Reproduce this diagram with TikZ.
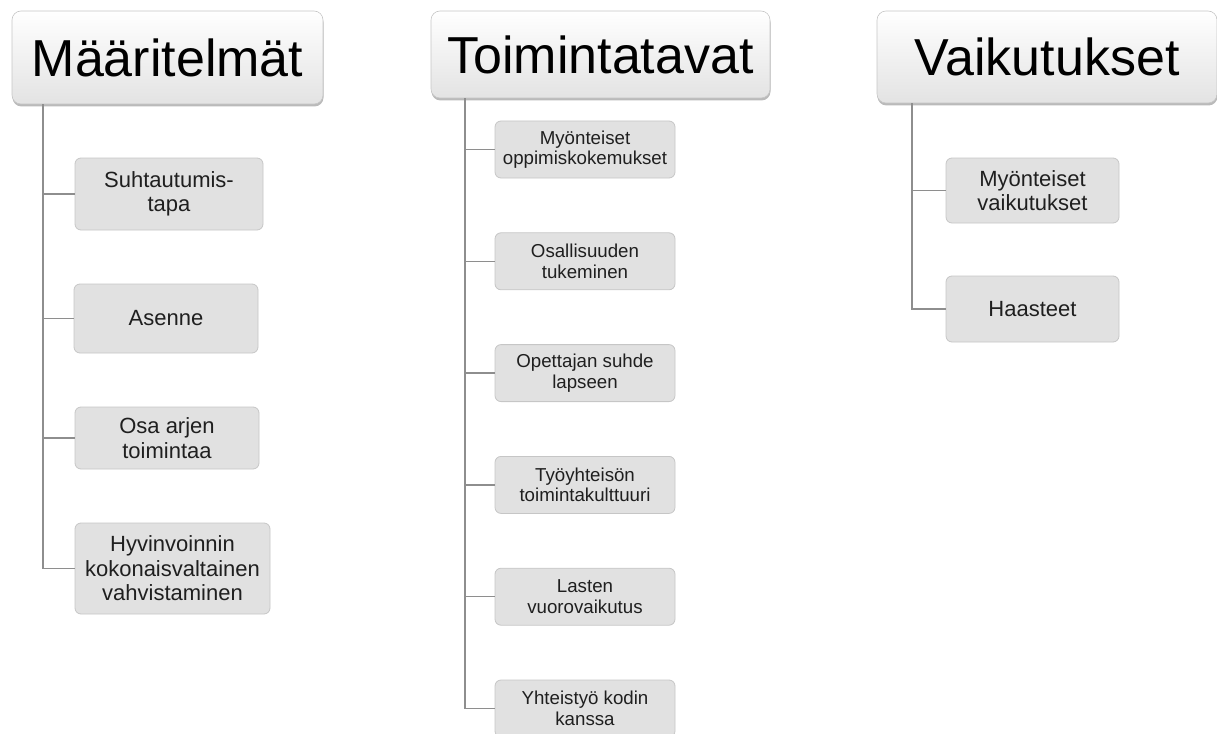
\documentclass[tikz,border=0pt]{standalone}
\usepackage{fontspec}
\setmainfont{Liberation Sans}
\usepackage{tikz}
\usetikzlibrary{shadows}
\definecolor{boxfill}{HTML}{E1E1E1}
\definecolor{boxline}{HTML}{C6C6C6}
\definecolor{branchcolor}{HTML}{8E8E8E}
\tikzset{
  headbox/.style={draw=boxline, line width=0.6pt, rounded corners=9pt, inner sep=0pt,
    top color=white, bottom color=black!11,
    drop shadow={shadow xshift=0.5pt, shadow yshift=-2.5pt, opacity=0.45, fill=black!60},
    font=\fontsize{52}{60}\selectfont},
  itembox/.style={draw=boxline, line width=0.8pt, fill=boxfill, rounded corners=6pt,
    inner sep=0pt, align=center, text=black!88},
  bigitem/.style={itembox, font=\fontsize{22}{24.5}\selectfont},
  smallitem/.style={itembox, font=\fontsize{18.7}{20.5}\selectfont},
  branch/.style={branchcolor, line width=1.3pt}
}
\begin{document}
\begin{tikzpicture}[x=1pt,y=-1pt]
\useasboundingbox (0,0) rectangle (1217,733);
%% otsikot
\node[headbox, minimum width=311pt, minimum height=93pt] (h1) at (167.5,57.5) {Määritelmät};
\node[headbox, minimum width=339pt, minimum height=87pt] (h2) at (600.5,54.5) {Toimintatavat};
\node[headbox, minimum width=340pt, minimum height=92pt] (h3) at (1047,57) {Vaikutukset};
%% määritelmät
\node[bigitem, minimum width=188pt, minimum height=72pt] (m1) at (169,194) {Suhtautumis-\\tapa};
\node[bigitem, minimum width=184pt, minimum height=69pt] (m2) at (166,318.5) {Asenne};
\node[bigitem, minimum width=184pt, minimum height=62pt] (m3) at (167,438) {Osa arjen\\toimintaa};
\node[bigitem, minimum width=195pt, minimum height=91pt] (m4) at (172.5,568.5) {Hyvinvoinnin\\kokonaisvaltainen\\vahvistaminen};
%% toimintatavat
\foreach \i/\txt in {1/{Myönteiset\\oppimiskokemukset}, 2/{Osallisuuden\\tukeminen},
    3/{Opettajan suhde\\lapseen}, 4/{Työyhteisön\\toimintakulttuuri},
    5/{Lasten\\vuorovaikutus}, 6/{Yhteistyö kodin\\kanssa}}
  \node[smallitem, minimum width=180pt, minimum height=57pt] (t\i) at (585,{149.5+111.8*(\i-1)}) {\txt};
%% vaikutukset
\node[bigitem, minimum width=173pt, minimum height=65pt] (v1) at (1032.5,190.5) {Myönteiset\\vaikutukset};
\node[bigitem, minimum width=173pt, minimum height=66pt] (v2) at (1032.5,309) {Haasteet};
%% haarat
\coordinate (r1) at (43,0);
\coordinate (r2) at (465,0);
\coordinate (r3) at (912,0);
\draw[branch] (r1 |- h1.south) |- (m4.west);
\foreach \i in {1,2,3}
  \draw[branch] (r1 |- m\i.west) -- (m\i.west);
\draw[branch] (r2 |- h2.south) |- (t6.west);
\foreach \i in {1,...,5}
  \draw[branch] (r2 |- t\i.west) -- (t\i.west);
\draw[branch] (r3 |- h3.south) |- (v2.west);
\draw[branch] (r3 |- v1.west) -- (v1.west);
\end{tikzpicture}
\end{document}
